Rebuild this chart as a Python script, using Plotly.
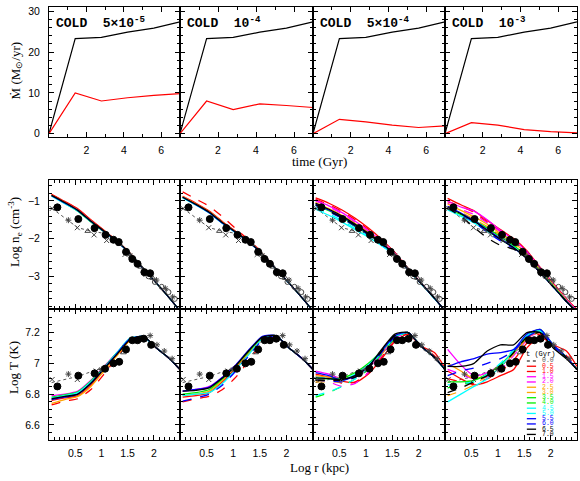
import plotly.graph_objects as go

# ---------------- data ----------------
time_gyr = [0, 1.4, 2.8, 4.2, 5.6, 7.0]
mdot_total = [0, 23.3, 23.6, 24.9, 25.9, 27.4]
mdot_cold_5e5 = [0, 10.0, 8.0, 8.8, 9.4, 9.8]
mdot_cold_1e4 = [0, 8.0, 5.9, 7.3, 6.9, 6.4]
mdot_cold_5e4 = [0, 3.5, 2.9, 2.1, 1.5, 1.9]
mdot_cold_1e3 = [0, 2.7, 2.1, 1.0, 0.5, 0.2]
panel_titles = ["COLD\u00a0 5×10<sup>-5</sup>", "COLD\u00a0 10<sup>-4</sup>",
                "COLD\u00a0 5×10<sup>-4</sup>", "COLD\u00a0 10<sup>-3</sup>"]

t_labels = ["0.0", "0.5", "1.0", "1.5", "2.0", "2.5", "3.0", "3.5",
            "4.0", "4.5", "5.0", "5.5", "6.0", "6.5", "7.0"]

# log r grid of the model profiles (kpc)
logr = [0.05, 0.3, 0.55, 0.8, 1.05, 1.3, 1.55, 1.8, 2.05, 2.3, 2.5]

# initial (t = 0) profiles, dotted
ne_t0 = [-1.19, -1.45, -1.71, -1.80, -1.86, -2.08, -2.40, -2.80, -3.18, -3.58, -3.92]
T_t0 = [6.875, 6.895, 6.915, 6.945, 6.975, 7.06, 7.15, 7.17, 7.10, 7.03, 6.96]

# model density profiles, one list per time 0.5 ... 7.0 (None = not drawn)
ne_p1 = [
    [-0.82, -1.01, -1.21, -1.50, -1.78, -2.06, -2.39, -2.79, -3.18, -3.58, -3.92],
    [-0.84, -1.02, -1.22, -1.51, -1.79, -2.07, -2.40, -2.80, -3.18, -3.58, -3.92],
    None, None,
    [-0.85, -1.04, -1.24, -1.53, -1.80, -2.07, -2.40, -2.80, -3.18, -3.58, -3.92],
    None,
    [-0.86, -1.06, -1.27, -1.56, -1.82, -2.08, -2.40, -2.80, -3.18, -3.58, -3.92],
    None,
    [-0.87, -1.07, -1.27, -1.55, -1.81, -2.08, -2.40, -2.80, -3.18, -3.58, -3.92],
    None,
    [-0.86, -1.05, -1.25, -1.54, -1.81, -2.08, -2.40, -2.80, -3.18, -3.58, -3.92],
    None,
    [-0.85, -1.04, -1.25, -1.54, -1.80, -2.07, -2.40, -2.80, -3.18, -3.58, -3.92],
    None,
]
ne_p2 = [
    [-0.88, -1.06, -1.27, -1.55, -1.81, -2.08, -2.40, -2.80, -3.18, -3.58, -3.92],
    [-0.76, -0.95, -1.14, -1.42, -1.74, -2.04, -2.38, -2.79, -3.18, -3.58, -3.92],
    None, None,
    [-0.89, -1.08, -1.29, -1.57, -1.83, -2.09, -2.41, -2.80, -3.18, -3.58, -3.92],
    None,
    [-0.91, -1.10, -1.31, -1.59, -1.84, -2.10, -2.41, -2.80, -3.18, -3.58, -3.92],
    None,
    [-0.92, -1.11, -1.32, -1.60, -1.85, -2.10, -2.41, -2.80, -3.18, -3.58, -3.92],
    None,
    [-0.90, -1.10, -1.31, -1.59, -1.84, -2.10, -2.41, -2.80, -3.18, -3.58, -3.92],
    None,
    [-0.90, -1.09, -1.30, -1.58, -1.83, -2.09, -2.41, -2.80, -3.18, -3.58, -3.92],
    None,
]
ne_p3 = [
    [-0.92, -1.06, -1.24, -1.46, -1.72, -2.02, -2.37, -2.79, -3.18, -3.58, -3.92],
    [-0.96, -1.10, -1.28, -1.50, -1.76, -2.05, -2.38, -2.80, -3.18, -3.58, -3.92],
    [-0.98, -1.13, -1.31, -1.54, -1.79, -2.07, -2.39, -2.80, -3.18, -3.58, -3.92],
    [-1.00, -1.16, -1.34, -1.57, -1.82, -2.09, -2.40, -2.80, -3.18, -3.58, -3.92],
    [-1.04, -1.20, -1.38, -1.60, -1.84, -2.10, -2.41, -2.80, -3.18, -3.58, -3.92],
    [-1.06, -1.22, -1.40, -1.62, -1.86, -2.12, -2.42, -2.81, -3.19, -3.58, -3.92],
    [-1.10, -1.26, -1.44, -1.66, -1.89, -2.14, -2.43, -2.81, -3.19, -3.58, -3.92],
    [-1.12, -1.28, -1.46, -1.68, -1.90, -2.15, -2.44, -2.82, -3.19, -3.58, -3.92],
    [-1.22, -1.38, -1.56, -1.76, -1.96, -2.19, -2.46, -2.83, -3.20, -3.59, -3.92],
    [-1.18, -1.34, -1.52, -1.73, -1.94, -2.18, -2.45, -2.82, -3.20, -3.59, -3.92],
    [-1.08, -1.24, -1.42, -1.64, -1.88, -2.13, -2.43, -2.81, -3.19, -3.58, -3.92],
    [-1.12, -1.28, -1.46, -1.67, -1.90, -2.15, -2.44, -2.82, -3.19, -3.58, -3.92],
    [-1.06, -1.22, -1.40, -1.62, -1.86, -2.12, -2.42, -2.81, -3.19, -3.58, -3.92],
    [-1.10, -1.26, -1.44, -1.65, -1.88, -2.14, -2.43, -2.81, -3.19, -3.58, -3.92],
]
ne_p4 = [
    [-0.93, -1.10, -1.26, -1.52, -1.76, -2.00, -2.32, -2.76, -3.18, -3.60, -3.88],
    [-1.02, -1.14, -1.30, -1.56, -1.80, -2.04, -2.36, -2.79, -3.20, -3.62, -3.92],
    [-1.00, -1.16, -1.27, -1.50, -1.78, -2.03, -2.35, -2.78, -3.20, -3.62, -3.92],
    [-1.06, -1.22, -1.36, -1.58, -1.82, -2.07, -2.38, -2.80, -3.21, -3.63, -3.93],
    [-1.08, -1.25, -1.42, -1.62, -1.86, -2.10, -2.41, -2.82, -3.22, -3.64, -3.94],
    [-1.14, -1.30, -1.48, -1.68, -1.90, -2.14, -2.44, -2.84, -3.24, -3.65, -3.95],
    [-1.22, -1.36, -1.52, -1.72, -1.95, -2.18, -2.47, -2.87, -3.26, -3.66, -3.95],
    [-1.18, -1.35, -1.55, -1.80, -2.00, -2.20, -2.48, -2.87, -3.26, -3.66, -3.95],
    [-1.24, -1.40, -1.58, -1.80, -2.02, -2.24, -2.52, -2.90, -3.28, -3.67, -3.96],
    [-1.20, -1.38, -1.56, -1.78, -2.00, -2.22, -2.50, -2.89, -3.27, -3.66, -3.95],
    [-1.14, -1.32, -1.52, -1.76, -2.00, -2.24, -2.52, -2.90, -3.28, -3.67, -3.96],
    [-1.18, -1.36, -1.56, -1.82, -2.06, -2.26, -2.53, -2.90, -3.28, -3.67, -3.96],
    [-1.16, -1.34, -1.54, -1.78, -2.02, -2.24, -2.52, -2.90, -3.28, -3.67, -3.96],
    [-1.20, -1.40, -1.70, -1.98, -2.18, -2.28, -2.52, -2.90, -3.28, -3.67, -3.96],
]

# model temperature profiles
T_p1 = [
    [6.76, 6.775, 6.79, 6.86, 6.96, 7.06, 7.15, 7.17, 7.10, 7.03, 6.96],
    [6.73, 6.755, 6.77, 6.83, 6.93, 7.04, 7.14, 7.17, 7.10, 7.03, 6.96],
    [6.79, 6.80, 6.82, 6.89, 6.98, 7.07, 7.16, 7.17, 7.10, 7.03, 6.96],
    None,
    [6.74, 6.765, 6.785, 6.85, 6.95, 7.05, 7.15, 7.17, 7.10, 7.03, 6.96],
    None,
    [6.78, 6.795, 6.815, 6.885, 6.975, 7.07, 7.16, 7.175, 7.10, 7.03, 6.96],
    None,
    [6.775, 6.79, 6.81, 6.88, 6.97, 7.07, 7.165, 7.17, 7.10, 7.03, 6.96],
    None,
    [6.765, 6.78, 6.80, 6.87, 6.965, 7.065, 7.16, 7.175, 7.10, 7.03, 6.96],
    None,
    [6.77, 6.785, 6.80, 6.87, 6.965, 7.06, 7.155, 7.175, 7.10, 7.03, 6.96],
    None,
]
T_p2 = [
    [6.78, 6.79, 6.81, 6.88, 6.97, 7.07, 7.16, 7.18, 7.10, 7.03, 6.96],
    [6.75, 6.77, 6.785, 6.83, 6.91, 7.02, 7.13, 7.17, 7.10, 7.03, 6.96],
    [6.82, 6.83, 6.85, 6.91, 6.99, 7.08, 7.17, 7.18, 7.10, 7.03, 6.96],
    None,
    [6.79, 6.80, 6.82, 6.89, 6.98, 7.07, 7.16, 7.18, 7.10, 7.03, 6.96],
    None,
    [6.80, 6.81, 6.83, 6.90, 6.985, 7.08, 7.17, 7.18, 7.10, 7.03, 6.96],
    None,
    [6.79, 6.80, 6.81, 6.87, 6.96, 7.06, 7.16, 7.18, 7.10, 7.03, 6.96],
    None,
    [6.82, 6.83, 6.845, 6.91, 6.99, 7.09, 7.175, 7.18, 7.10, 7.03, 6.96],
    [6.755, 6.775, 6.80, 6.86, 6.95, 7.05, 7.15, 7.18, 7.10, 7.03, 6.96],
    [6.82, 6.825, 6.84, 6.905, 6.985, 7.085, 7.17, 7.18, 7.10, 7.03, 6.96],
    None,
]
T_p3 = [
    [6.93, 6.91, 6.885, 6.875, 6.93, 7.03, 7.14, 7.19, 7.11, 7.07, 6.97],
    [6.91, 6.90, 6.87, 6.88, 6.94, 7.04, 7.15, 7.19, 7.11, 7.05, 6.96],
    [6.95, 6.93, 6.90, 6.91, 6.97, 7.06, 7.16, 7.20, 7.11, 7.04, 6.96],
    [6.90, 6.88, 6.85, 6.87, 6.94, 7.05, 7.16, 7.20, 7.11, 7.04, 6.96],
    [6.92, 6.91, 6.90, 6.92, 6.98, 7.07, 7.17, 7.20, 7.11, 7.04, 6.96],
    [6.88, 6.88, 6.88, 6.91, 6.97, 7.06, 7.16, 7.20, 7.11, 7.04, 6.96],
    [6.90, 6.90, 6.905, 6.94, 7.00, 7.08, 7.17, 7.20, 7.11, 7.04, 6.96],
    [6.78, 6.81, 6.85, 6.90, 6.96, 7.06, 7.16, 7.20, 7.11, 7.04, 6.96],
    [6.91, 6.90, 6.89, 6.93, 6.99, 7.08, 7.17, 7.20, 7.11, 7.04, 6.96],
    [6.79, 6.815, 6.85, 6.90, 6.97, 7.07, 7.17, 7.20, 7.11, 7.04, 6.96],
    [6.94, 6.92, 6.89, 6.92, 6.98, 7.08, 7.18, 7.20, 7.11, 7.04, 6.96],
    [6.89, 6.885, 6.88, 6.91, 6.97, 7.07, 7.17, 7.20, 7.11, 7.04, 6.96],
    [6.905, 6.90, 6.895, 6.92, 6.98, 7.09, 7.19, 7.20, 7.11, 7.04, 6.96],
    [6.89, 6.89, 6.89, 6.91, 6.97, 7.08, 7.18, 7.20, 7.11, 7.04, 6.96],
]
T_p4 = [
    [6.95, 6.90, 6.86, 6.88, 6.92, 6.96, 7.10, 7.17, 7.12, 7.08, 6.98],
    [6.90, 6.88, 6.87, 6.90, 6.95, 7.02, 7.13, 7.19, 7.11, 7.05, 6.97],
    [7.09, 6.99, 6.92, 6.94, 6.99, 7.07, 7.16, 7.20, 7.12, 7.04, 6.96],
    [6.96, 6.93, 6.90, 6.91, 6.96, 7.05, 7.15, 7.20, 7.11, 7.04, 6.96],
    [7.00, 6.95, 6.90, 6.93, 6.99, 7.07, 7.16, 7.21, 7.11, 7.04, 6.96],
    [6.79, 6.82, 6.86, 6.92, 6.98, 7.06, 7.16, 7.20, 7.11, 7.04, 6.96],
    [6.88, 6.88, 6.89, 6.93, 6.99, 7.08, 7.18, 7.22, 7.12, 7.04, 6.96],
    [6.84, 6.86, 6.88, 6.92, 6.98, 7.07, 7.17, 7.21, 7.11, 7.04, 6.96],
    [6.75, 6.80, 6.85, 6.90, 6.98, 7.08, 7.18, 7.21, 7.11, 7.04, 6.96],
    [6.86, 6.87, 6.88, 6.93, 7.00, 7.09, 7.18, 7.21, 7.11, 7.04, 6.96],
    [6.98, 7.01, 7.03, 7.06, 7.07, 7.09, 7.19, 7.22, 7.12, 7.04, 6.96],
    [6.92, 6.95, 6.97, 7.00, 7.03, 7.08, 7.17, 7.21, 7.11, 7.04, 6.96],
    [6.98, 6.98, 7.00, 7.08, 7.12, 7.12, 7.20, 7.20, 7.10, 7.03, 6.96],
    [6.81, 6.84, 6.88, 6.92, 6.98, 7.07, 7.17, 7.20, 7.11, 7.04, 6.96],
]

# observed profiles (same in every panel)
obs_ne_r = [0.16, 0.56, 0.87, 1.08, 1.23, 1.33, 1.47, 1.59, 1.69, 1.82, 1.93]
obs_ne = [-1.17, -1.48, -1.72, -1.90, -2.03, -2.09, -2.35, -2.54, -2.67, -2.89, -2.92]
cross_ne_r = [0.06, 0.54, 0.86, 1.10, 1.45, 1.85]
cross_ne = [-1.20, -1.71, -1.90, -2.05, -2.42, -2.95]
star_ne_r = [0.37, 1.55, 2.05, 2.22, 2.36]
star_ne = [-1.51, -2.45, -3.10, -3.32, -3.55]
tri_ne_r = [0.74, 1.35, 1.75, 1.98]
tri_ne = [-1.80, -2.15, -2.75, -3.05]
ocirc_ne_r = [1.90, 2.02, 2.15, 2.28, 2.40]
ocirc_ne = [-3.00, -3.15, -3.28, -3.42, -3.60]

obs_T_r = [0.16, 0.56, 0.87, 1.07, 1.23, 1.34, 1.47, 1.59, 1.69, 1.81, 1.95]
obs_T = [6.85, 6.92, 6.935, 6.965, 7.00, 7.01, 7.09, 7.15, 7.15, 7.16, 7.12]
cross_T_r = [0.06, 0.54, 0.90, 1.45]
cross_T = [6.895, 6.895, 6.95, 7.10]
star_T_r = [0.37, 1.00, 1.93, 2.06, 2.20, 2.35]
star_T = [6.93, 6.96, 7.18, 7.12, 7.08, 7.03]
tri_T_r = [1.42, 1.78]
tri_T = [7.07, 7.16]

# ---------------- styles ----------------
pair_colors = ["#ff0000", "#ff00ff", "#ffa500", "#00ee00", "#00ffff", "#0000ff", "#000000"]
line_colors = [c for c in pair_colors for _ in (0, 1)]
line_dashes = ["solid", "dash"] * 7

W, H = 580, 481
col_px = [(49, 180), (180, 313), (313, 445), (445, 577)]
row_px = [(5.3, 136), (179, 310), (310, 442)]


def px_x(x):
    return x / W


def px_y(y):
    return 1 - y / H


fig = go.Figure()
tick_font = dict(family="Liberation Sans", size=10.5, color="black")


def ax(k):
    return ("x" if k == 1 else "x%d" % k), ("y" if k == 1 else "y%d" % k)


def add_profiles(k, curves, t0, obs_sets):
    xa, ya = ax(k)
    fig.add_trace(go.Scatter(x=logr, y=t0, mode="lines", xaxis=xa, yaxis=ya,
                             line=dict(color="#555", width=1, dash="dot"), showlegend=False))
    for i, ys in enumerate(curves):
        if ys is None:
            continue
        fig.add_trace(go.Scatter(x=logr, y=ys, mode="lines", xaxis=xa, yaxis=ya,
                                 line=dict(color=line_colors[i], width=1.3, dash=line_dashes[i],
                                           shape="spline", smoothing=0.6),
                                 showlegend=False))
    for xs, ys, sym, size, col in obs_sets:
        fig.add_trace(go.Scatter(x=xs, y=ys, mode="markers", xaxis=xa, yaxis=ya,
                                 marker=dict(symbol=sym, size=size, color=col,
                                             line=dict(width=1, color=col)),
                                 showlegend=False))


mdot_cold = [mdot_cold_5e5, mdot_cold_1e4, mdot_cold_5e4, mdot_cold_1e3]
ne_panels = [ne_p1, ne_p2, ne_p3, ne_p4]
T_panels = [T_p1, T_p2, T_p3, T_p4]

obs_ne_sets = [
    (cross_ne_r, cross_ne, "x-thin", 5, "#444"),
    (star_ne_r, star_ne, "asterisk", 5, "#444"),
    (tri_ne_r, tri_ne, "triangle-up-open", 5, "#444"),
    (ocirc_ne_r, ocirc_ne, "circle-open", 5, "#444"),
    (obs_ne_r, obs_ne, "circle", 7, "black"),
]
obs_T_sets = [
    (cross_T_r, cross_T, "x-thin", 5, "#444"),
    (star_T_r, star_T, "asterisk", 5, "#444"),
    (tri_T_r, tri_T, "triangle-up-open", 5, "#444"),
    (obs_T_r, obs_T, "circle", 7, "black"),
]

layout = dict(width=W, height=H, autosize=False, margin=dict(l=0, r=0, t=0, b=0),
              paper_bgcolor="white", plot_bgcolor="white", showlegend=False)

for row in range(3):
    for col in range(4):
        k = row * 4 + col + 1
        xa, ya = ax(k)
        base = dict(showline=True, linecolor="black", linewidth=1, mirror="allticks",
                    ticks="inside", ticklen=5, tickcolor="black", tickwidth=1,
                    showgrid=False, zeroline=False, tickfont=tick_font)
        xd = dict(base, domain=[px_x(col_px[col][0]), px_x(col_px[col][1])], anchor=ya)
        yd = dict(base, domain=[px_y(row_px[row][1]), px_y(row_px[row][0])], anchor=xa)
        if row == 0:
            xd.update(range=[0, 7], tickmode="array", tickvals=[2, 4, 6],
                      minor=dict(ticks="inside", ticklen=3, dtick=1, tick0=0, tickcolor="black"),
                      showticklabels=True, ticklabelstandoff=4)
            yd.update(range=[-0.8, 31], tickmode="array", tickvals=[0, 10, 20, 30],
                      minor=dict(ticks="inside", ticklen=3, dtick=2, tick0=0, tickcolor="black"))
        else:
            xd.update(range=[0, 2.5], tickmode="array", tickvals=[0.5, 1, 1.5, 2],
                      ticktext=["0.5", "1", "1.5", "2"],
                      minor=dict(ticks="inside", ticklen=3, dtick=0.1, tick0=0, tickcolor="black"),
                      showticklabels=(row == 2), ticklabelstandoff=3)
            if row == 1:
                yd.update(range=[-3.88, -0.43], tickmode="array", tickvals=[-1, -2, -3],
                          ticktext=["\u22121", "\u22122", "\u22123"],
                          minor=dict(ticks="inside", ticklen=3, dtick=0.2, tick0=0, tickcolor="black"))
            else:
                yd.update(range=[6.5, 7.35], tickmode="array", tickvals=[6.6, 6.8, 7.0, 7.2],
                          ticktext=["6.6", "6.8", "7", "7.2"],
                          minor=dict(ticks="inside", ticklen=3, dtick=0.05, tick0=0, tickcolor="black"))
        yd["showticklabels"] = (col == 0)
        yd["ticklabelstandoff"] = 6
        layout["xaxis" if k == 1 else "xaxis%d" % k] = xd
        layout["yaxis" if k == 1 else "yaxis%d" % k] = yd

        if row == 0:
            fig.add_trace(go.Scatter(x=time_gyr, y=mdot_total, mode="lines", xaxis=xa, yaxis=ya,
                                     line=dict(color="black", width=1.2), showlegend=False))
            fig.add_trace(go.Scatter(x=time_gyr, y=mdot_cold[col], mode="lines", xaxis=xa, yaxis=ya,
                                     line=dict(color="#ff0000", width=1.2), showlegend=False))
        elif row == 1:
            add_profiles(k, ne_panels[col], ne_t0, obs_ne_sets)
        else:
            add_profiles(k, T_panels[col], T_t0, obs_T_sets)

fig.update_layout(**layout)

# panel labels
for col in range(4):
    xa, ya = ax(col + 1)
    fig.add_annotation(text="<b>" + panel_titles[col] + "</b>", xref=xa + " domain",
                       yref=ya + " domain", x=0.04, y=0.96, xanchor="left", yanchor="top",
                       showarrow=False, font=dict(family="Liberation Mono", size=13, color="black"))

title_font = dict(family="Liberation Serif", size=13, color="black")
titles = [
    ("Ṁ (M<sub>⊙</sub>/yr)", 16, 70, -90),
    ("Log n<sub>e</sub> (cm<sup>-3</sup>)", 15, 232, -90),
    ("Log T (K)", 14, 369, -90),
    ("time (Gyr)", 319, 161, 0),
    ("Log r (kpc)", 319, 469, 0),
]
for text, tx, ty, ang in titles:
    fig.add_annotation(text=text, xref="paper", yref="paper", x=px_x(tx), y=px_y(ty),
                       xanchor="center", yanchor="middle", textangle=ang,
                       showarrow=False, font=title_font)

# time legend inside the last temperature panel
leg_font = dict(family="Liberation Mono", size=6.5)
fig.add_annotation(text="t (Gyr)", xref="x12 domain", yref="y12 domain", x=0.72, y=0.66,
                   xanchor="center", yanchor="middle", showarrow=False,
                   font=dict(family="Liberation Mono", size=7, color="black"))
for i, lab in enumerate(t_labels):
    yy = 0.606 - i * (0.606 - 0.045) / 14
    if i == 0:
        color, dash = "#555", "dot"
    else:
        color, dash = line_colors[i - 1], line_dashes[i - 1]
    fig.add_shape(type="line", xref="x12 domain", yref="y12 domain", x0=0.62, x1=0.69,
                  y0=yy, y1=yy, line=dict(color=color, width=1.3, dash=dash))
    fig.add_annotation(text=lab, xref="x12 domain", yref="y12 domain", x=0.78, y=yy,
                       xanchor="center", yanchor="middle",
                       showarrow=False, font=dict(leg_font, color=color))

# drop the default 8px body margin so the 580x481 figure fills the window exactly
fig.write_html("out.html", config={"displayModeBar": False},
               post_script="document.body.style.margin = '0px';")
